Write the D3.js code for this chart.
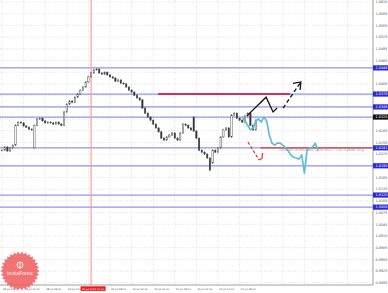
<!DOCTYPE html>
<html>
<head>
<meta charset="utf-8">
<script src="https://cdnjs.cloudflare.com/ajax/libs/d3/7.8.5/d3.min.js"></script>
<style>
body{margin:0;background:#fff}
svg{display:block}
text{font-family:"DejaVu Sans",sans-serif}
</style>
</head>
<body>
<svg id="chart" width="388" height="293"></svg>
<script>
// hourly closes, index 0 = first bar on the left
var closes = [1.0235,1.0243,1.0233,1.0241,1.0248,1.0299,1.0307,1.0305,1.0297,1.0294,
  1.0289,1.0287,1.0299,1.0315,1.0317,1.0310,1.0305,1.0307,1.0305,1.0302,
  1.0307,1.0302,1.0299,1.0333,1.0353,1.0361,1.0358,1.0371,1.0379,1.0389,
  1.0397,1.0410,1.0423,1.0433,1.0441,1.0443,1.0433,1.0430,1.0435,1.0428,
  1.0423,1.0420,1.0412,1.0415,1.0407,1.0405,1.0397,1.0389,1.0384,1.0376,
  1.0369,1.0364,1.0343,1.0330,1.0320,1.0312,1.0302,1.0292,1.0282,1.0266,
  1.0261,1.0269,1.0274,1.0279,1.0266,1.0261,1.0279,1.0302,1.0299,1.0292,
  1.0287,1.0284,1.0266,1.0235,1.0230,1.0225,1.0215,1.0202,1.0235,1.0230,
  1.0241,1.0269,1.0287,1.0292,1.0269,1.0325,1.0330,1.0317,1.0312,1.0307,
  1.0323,1.0330,1.0299,1.0287,1.0312];
// long shadows [bar index, price]
var wicks = [[12,1.0241],[71,1.0320],[77,1.0184]];

// price that came after the forecast (cyan)
var actualStart = 89;
var actual = [1.0320,1.0310,1.0299,1.0287,1.0292,1.0310,1.0315,1.0307,1.0320,1.0310,
  1.0274,1.0253,1.0248,1.0253,1.0253,1.0248,1.0241,1.0233,1.0223,1.0217,
  1.0215,1.0212,1.0223,1.0176,1.0235,1.0241,1.0243,1.0253,1.0235];

// horizontal levels
var levels = [1.0446,1.0379,1.0346,1.0320,1.0241,1.0195,1.0120,1.0089];
var levelTag = ["#2a2ad0","#2a2ad0","#2a2ad0","#111","#2a2ad0","#2a2ad0","#2a2ad0","#2a2ad0"];

// forecast drawings [bar index, price]
var fcSolid = [[90.7,1.0323],[97.8,1.0371],[100.4,1.0333],[101.9,1.0343]];
var fcDash = [[104.1,1.0343],[110.7,1.0410]];
var fcRed = [[91.1,1.0256],[95.2,1.0210]];
var resistance = [[57.8,1.0379],[106.7,1.0379]];
var support = [[95.8,1.0241],[137,1.0241]];

var timeLabels = ["18 Jul 2022","18 Jul 10:00","18 Jul 18:00","19 Jul 02:00","19 Jul 10:00",
  "19 Jul 18:00","20 Jul 02:00","20 Jul 10:00","20 Jul 18:00","21 Jul 02:00","21 Jul 10:00","21 Jul 18:00"];
var redBar = 33;
var redLabel = "19 Jul 2022 11:00";

var priceMin = 0.9895, priceMax = 1.0615, priceStep = 0.0030;

var svg = d3.select("#chart");
var W = 373, H = 285;

var x = d3.scaleLinear().domain([0,128]).range([2,347.6]);
var y = d3.scaleLinear().domain([priceMin,priceMax]).range([282.8,2]);

var priceTicks = d3.range(priceMin, priceMax + 1e-9, priceStep);
var timeTicks = d3.range(0, 129, 8);

// grid
var grid = svg.append("g").attr("stroke","#cfcfcf").attr("stroke-width",0.6).attr("stroke-dasharray","1,1.4");
grid.selectAll(".gx").data(timeTicks).enter().append("line")
  .attr("x1",function(d){return x(d);}).attr("x2",function(d){return x(d);})
  .attr("y1",0).attr("y2",H);
grid.selectAll(".gy").data(priceTicks).enter().append("line")
  .attr("x1",0).attr("x2",W)
  .attr("y1",function(d){return y(d);}).attr("y2",function(d){return y(d);});

// levels
svg.selectAll(".lvl").data(levels).enter().append("line")
  .attr("x1",0).attr("x2",W)
  .attr("y1",function(d){return y(d);}).attr("y2",function(d){return y(d);})
  .attr("stroke","#9494e8").attr("stroke-width",1.2);

// red vertical line
svg.append("line").attr("x1",x(redBar)).attr("x2",x(redBar)).attr("y1",0).attr("y2",H)
  .attr("stroke","#ff9a9a").attr("stroke-width",1.2);

// candles
var bars = closes.map(function(c,i){
  var o = i > 0 ? closes[i-1] : c;
  return {i:i,o:o,c:c,hi:Math.max(o,c),lo:Math.min(o,c)};
});
wicks.forEach(function(w){
  var b = bars[w[0]];
  if(w[1] > b.hi) b.hi = w[1]; else b.lo = w[1];
});
var cg = svg.append("g");
cg.selectAll(".wk").data(bars).enter().append("line")
  .attr("x1",function(d){return x(d.i);}).attr("x2",function(d){return x(d.i);})
  .attr("y1",function(d){return y(d.hi)-1;}).attr("y2",function(d){return y(d.lo)+1;})
  .attr("stroke","#555").attr("stroke-width",0.6);
cg.selectAll(".bd").data(bars).enter().append("rect")
  .attr("x",function(d){return x(d.i)-0.7;})
  .attr("y",function(d){return y(d.hi);})
  .attr("width",1.4)
  .attr("height",function(d){return Math.max(0.6,y(d.lo)-y(d.hi));})
  .attr("fill",function(d){return d.c >= d.o ? "#fff" : "#333";})
  .attr("stroke","#444").attr("stroke-width",0.45);

var line = d3.line().x(function(d){return x(d[0]);}).y(function(d){return y(d[1]);});

// resistance / support
svg.append("path").attr("d",line(resistance)).attr("stroke","#c8336e").attr("stroke-width",2).attr("fill","none");
svg.append("path").attr("d",line(support)).attr("stroke","#e83a3a").attr("stroke-width",1.4).attr("fill","none");

// actual price
svg.append("path").attr("d",line(actual.map(function(v,k){return [actualStart+k,v];})))
  .attr("stroke","#5fbdd8").attr("stroke-width",1.7).attr("fill","none").attr("stroke-linejoin","round");

// text on the support
svg.append("text").attr("x",279).attr("y",y(1.0241)+3.2).attr("font-size",4.2).attr("fill","#a8a8a8")
  .text("Аналитический прогноз - ForTrader.org");

// forecast arrows
svg.append("path").attr("d",line(fcSolid)).attr("stroke","#111").attr("stroke-width",1.3).attr("fill","none");
svg.append("path").attr("d",line(fcDash)).attr("stroke","#111").attr("stroke-width",1.3)
  .attr("stroke-dasharray","4,2.5").attr("fill","none");
var tip = fcDash[1];
svg.append("path").attr("d","M"+(x(tip[0])-8)+","+(y(tip[1])+1.5)+"L"+x(tip[0])+","+y(tip[1])+"L"+(x(tip[0])-0.8)+","+(y(tip[1])+8))
  .attr("stroke","#111").attr("stroke-width",1.3).attr("fill","none");
svg.append("path").attr("d",line(fcRed)).attr("stroke","#e53030").attr("stroke-width",1.2)
  .attr("stroke-dasharray","3,2").attr("fill","none");
var rt = fcRed[1];
svg.append("path").attr("d","M"+x(rt[0])+","+y(rt[1])+"L"+(x(rt[0])+3)+","+(y(rt[1])-1.5)+"L"+(x(rt[0])+3.5)+","+(y(rt[1])-7))
  .attr("stroke","#e53030").attr("stroke-width",1.2).attr("fill","none");

// frame
svg.append("line").attr("x1",W).attr("x2",W).attr("y1",0).attr("y2",H).attr("stroke","#888").attr("stroke-width",0.8);
svg.append("line").attr("x1",0).attr("x2",W).attr("y1",H).attr("y2",H).attr("stroke","#888").attr("stroke-width",0.8);

// price axis, skipping labels hidden by level tags
var fmt = d3.format(".4f");
var freeTicks = priceTicks.filter(function(p){
  return levels.every(function(l){return Math.abs(y(p)-y(l)) > 5.4;});
});
svg.selectAll(".pl").data(freeTicks).enter().append("text")
  .attr("x",375.5).attr("y",function(d){return y(d)+1.2;})
  .attr("font-size",3.4).attr("fill","#555").text(function(d){return fmt(d);});
var tags = svg.selectAll(".tg").data(levels).enter().append("g");
tags.append("rect").attr("x",W).attr("y",function(d){return y(d)-2.6;}).attr("width",15).attr("height",5.2)
  .attr("fill",function(d,i){return levelTag[i];});
tags.append("text").attr("x",375.5).attr("y",function(d){return y(d)+1.2;})
  .attr("font-size",3.4).attr("fill","#fff").text(function(d){return fmt(d);});

// time axis
svg.selectAll(".tl").data(timeLabels).enter().append("text")
  .filter(function(d,i){return i !== 4;})
  .attr("x",function(d){return x(timeLabels.indexOf(d)*8)+1;})
  .attr("y",290).attr("font-size",2.5).attr("fill","#444").text(function(d){return d;});
svg.append("rect").attr("x",x(redBar)-10.5).attr("y",286.3).attr("width",25).attr("height",4.6).attr("fill","#ee1c1c");
svg.append("text").attr("x",x(redBar)+2).attr("y",289.8).attr("text-anchor","middle")
  .attr("font-size",2.5).attr("fill","#fff").text(redLabel);

// logo
var cx = 20, cy = 271, n = 30;
var pts = d3.range(n*2).map(function(k){
  var r = k % 2 ? 17 : 19.5, a = Math.PI * k / n;
  return [cx + r*Math.cos(a), cy + r*Math.sin(a)];
});
var logo = svg.append("g").attr("opacity",0.85);
logo.append("path").attr("d","M"+pts.join("L")+"Z").attr("fill","#ef5b5b");
logo.append("circle").attr("cx",cx).attr("cy",cy-6).attr("r",3).attr("fill","none").attr("stroke","#fff").attr("stroke-width",0.9);
logo.append("line").attr("x1",cx).attr("x2",cx).attr("y1",cy-8).attr("y2",cy-2.5).attr("stroke","#fff").attr("stroke-width",0.9);
logo.append("text").attr("x",cx).attr("y",cy+4).attr("text-anchor","middle").attr("font-size",5)
  .attr("fill","#fff").text("InstaForex");
</script>
</body>
</html>
